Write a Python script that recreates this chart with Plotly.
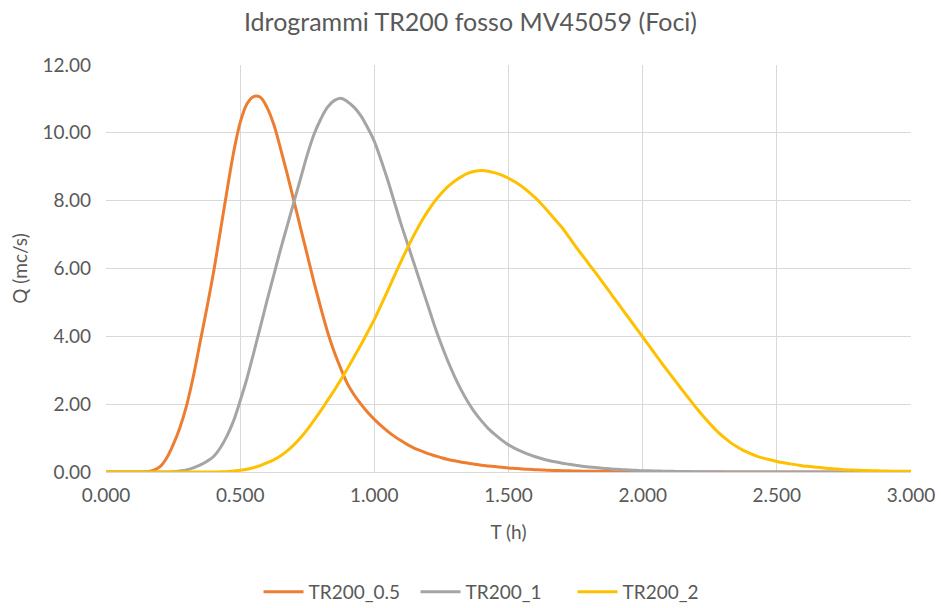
import plotly.graph_objects as go

# Time axis (h), one reading every 0.025 h
t = [round(i * 0.025, 3) for i in range(121)]

q_tr200_05 = [
    0, 0, 0, 0, 0, 0, 0.01, 0.05, 0.15, 0.4,
    0.8, 1.3, 1.95, 2.8, 3.8, 4.8, 5.85, 7.05, 8.25, 9.4,
    10.3, 10.85, 11.07, 11.05, 10.75, 10.25, 9.55, 8.8, 8.0, 7.2,
    6.4, 5.6, 4.85, 4.15, 3.55, 3.05, 2.6, 2.27, 2.0, 1.76,
    1.55, 1.37, 1.2, 1.05, 0.92, 0.8, 0.7, 0.62, 0.54, 0.48,
    0.42, 0.37, 0.33, 0.29, 0.26, 0.23, 0.2, 0.18, 0.16, 0.14,
    0.12, 0.105, 0.09, 0.08, 0.07, 0.06, 0.05, 0.045, 0.04, 0.035,
    0.03, 0.025, 0.02, 0.02, 0.02, 0.015, 0.01, 0.01, 0.01, 0.01,
    0.01, 0, 0, 0, 0, 0, 0, 0, 0, 0,
    0, 0, 0, 0, 0, 0, 0, 0, 0, 0,
    0, 0, 0, 0, 0, 0, 0, 0, 0, 0,
    0, 0, 0, 0, 0, 0, 0, 0, 0, 0,
    0]

q_tr200_1 = [
    0, 0, 0, 0, 0, 0, 0, 0, 0, 0,
    0.01, 0.03, 0.06, 0.12, 0.2, 0.31, 0.45, 0.7, 1.05, 1.5,
    2.1, 2.75, 3.5, 4.27, 5.05, 5.8, 6.55, 7.25, 7.95, 8.65,
    9.35, 9.95, 10.4, 10.75, 10.95, 11.02, 10.92, 10.75, 10.5, 10.15,
    9.75, 9.2, 8.6, 7.95, 7.3, 6.7, 6.1, 5.5, 4.9, 4.3,
    3.75, 3.25, 2.8, 2.4, 2.05, 1.75, 1.5, 1.28, 1.1, 0.94,
    0.8, 0.69, 0.6, 0.52, 0.45, 0.39, 0.34, 0.3, 0.26, 0.23,
    0.2, 0.17, 0.15, 0.13, 0.11, 0.095, 0.08, 0.07, 0.06, 0.05,
    0.04, 0.035, 0.03, 0.025, 0.02, 0.018, 0.015, 0.012, 0.01, 0.01,
    0.008, 0.006, 0.005, 0, 0, 0, 0, 0, 0, 0,
    0, 0, 0, 0, 0, 0, 0, 0, 0, 0,
    0, 0, 0, 0, 0, 0, 0, 0, 0, 0,
    0]

q_tr200_2 = [
    0, 0, 0, 0, 0, 0, 0, 0, 0, 0,
    0, 0, 0, 0, 0, 0, 0, 0.005, 0.01, 0.03,
    0.05, 0.08, 0.13, 0.19, 0.27, 0.36, 0.47, 0.62, 0.8, 1.01,
    1.25, 1.52, 1.8, 2.1, 2.4, 2.72, 3.05, 3.4, 3.75, 4.12,
    4.5, 4.92, 5.35, 5.79, 6.22, 6.63, 7.02, 7.38, 7.7, 7.98,
    8.22, 8.42, 8.58, 8.71, 8.81, 8.87, 8.89, 8.87, 8.82, 8.75,
    8.66, 8.55, 8.42, 8.26, 8.08, 7.88, 7.66, 7.43, 7.2, 6.93,
    6.65, 6.39, 6.13, 5.87, 5.6, 5.33, 5.06, 4.79, 4.52, 4.25,
    3.98, 3.71, 3.44, 3.17, 2.91, 2.65, 2.39, 2.14, 1.89, 1.65,
    1.43, 1.22, 1.04, 0.88, 0.75, 0.64, 0.55, 0.47, 0.41, 0.36,
    0.31, 0.27, 0.24, 0.21, 0.18, 0.16, 0.14, 0.12, 0.1, 0.085,
    0.07, 0.06, 0.05, 0.045, 0.04, 0.035, 0.03, 0.025, 0.02, 0.02,
    0.02]

series = [
    ("TR200_0.5", q_tr200_05, "#ED7D31"),
    ("TR200_1", q_tr200_1, "#A5A5A5"),
    ("TR200_2", q_tr200_2, "#FFC000"),
]

x_ticks = [0, 0.5, 1.0, 1.5, 2.0, 2.5, 3.0]
y_ticks = [0, 2, 4, 6, 8, 10, 12]

font_family = "Lato, Open Sans, sans-serif"
text_col = "#595959"

fig = go.Figure()
for name, q, col in series:
    fig.add_trace(go.Scatter(x=t, y=q, mode="lines", name=name,
                             line=dict(color=col, width=3, shape="spline", smoothing=1.0)))

fig.update_layout(
    width=941, height=608,
    paper_bgcolor="white", plot_bgcolor="white",
    margin=dict(l=106, r=30, t=65, b=136),
    font=dict(family=font_family, color=text_col, size=19),
    title=dict(text="Idrogrammi TR200 fosso MV45059 (Foci)", x=0.5, xanchor="center",
               y=1 - 22 / 608, yanchor="middle",
               font=dict(size=25, color=text_col, family=font_family)),
    showlegend=True,
    legend=dict(orientation="h", xref="container", x=0.525, xanchor="center",
                yref="container", y=1 - 592 / 608, yanchor="middle",
                entrywidth=102, entrywidthmode="pixels",
                font=dict(size=19, color=text_col), itemwidth=40),
    xaxis=dict(range=[0, 3], tickvals=x_ticks, tickformat=".3f", automargin=False,
               showgrid=True, gridcolor="#D9D9D9", gridwidth=1,
               showline=True, linecolor="#D9D9D9", linewidth=1,
               zeroline=False, ticks="", ticklabelstandoff=6,
               tickfont=dict(size=19, color=text_col),
               title=dict(text="T (h)", font=dict(size=19, color=text_col), standoff=20)),
    yaxis=dict(range=[0, 12], tickvals=y_ticks, tickformat=".2f", automargin=False,
               showgrid=True, gridcolor="#D9D9D9", gridwidth=1,
               showline=False, zeroline=False, ticks="", ticklabelstandoff=14,
               tickfont=dict(size=19, color=text_col),
               title=dict(text="Q (mc/s)", font=dict(size=19, color=text_col), standoff=9)),
)

fig.write_html("out.html")
